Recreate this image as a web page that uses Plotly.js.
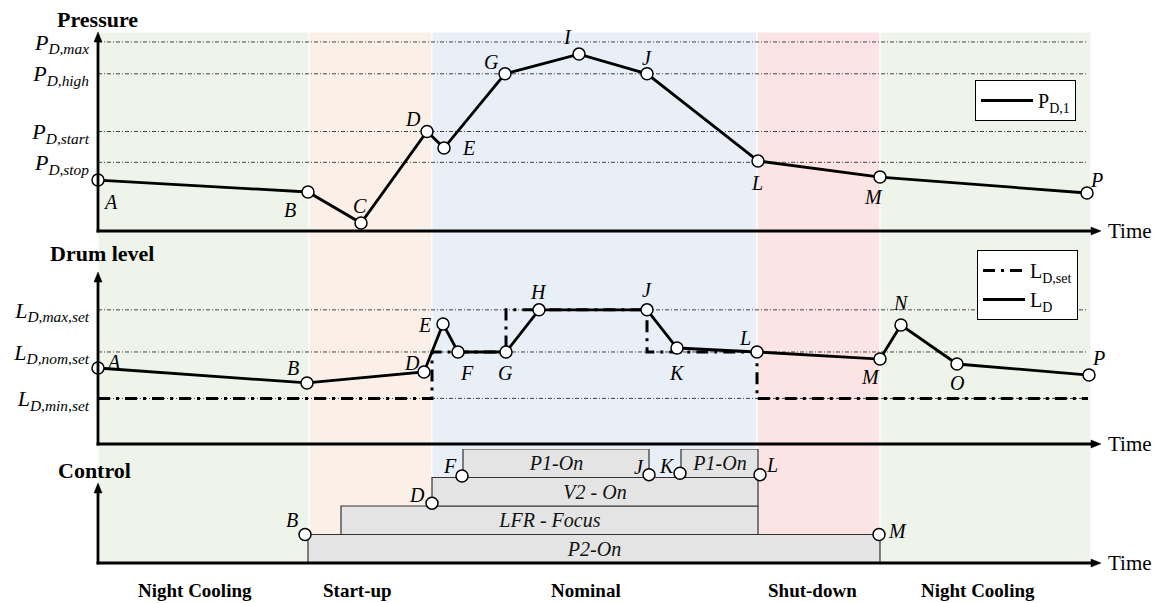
<!DOCTYPE html>
<html>
<head>
<meta charset="utf-8">
<script src="https://cdn.plot.ly/plotly-3.0.1.min.js"></script>
<style>html,body{margin:0;padding:0;background:#fff;}#chart{width:1159px;height:603px;}</style>
</head>
<body>
<div id="chart"></div>
<script>
// ---------------- DATA ----------------
const phaseNames = ['Night Cooling', 'Start-up', 'Nominal', 'Shut-down', 'Night Cooling'];
const phaseBounds = [0, 21.1, 33.4, 65.9, 78.2, 99.3];
const phaseLabelTime = [9.65, 25.95, 48.8, 71.4, 87.95];

// Pressure panel
const pLabels = ['A', 'B', 'C', 'D', 'E', 'G', 'I', 'J', 'L', 'M', 'P'];
const pTime = [0, 21.0, 26.3, 32.9, 34.6, 40.7, 48.1, 54.9, 66.0, 78.2, 98.9];
const pValue = [25.6, 19.6, 4.0, 50.0, 41.7, 79.0, 88.9, 79.0, 35.2, 27.1, 19.1];
const pRefText = ['<i>P</i><sub><i>D,max</i></sub>', '<i>P</i><sub><i>D,high</i></sub>', '<i>P</i><sub><i>D,start</i></sub>', '<i>P</i><sub><i>D,stop</i></sub>'];
const pRefValue = [95, 79, 50, 34.5];

// Drum level panel
const lLabels = ['A', 'B', 'D', 'E', 'F', 'G', 'H', 'J', 'K', 'L', 'M', 'N', 'O', 'P'];
const lTime = [0, 20.9, 32.6, 34.5, 36.0, 40.8, 44.1, 54.9, 57.9, 65.9, 78.2, 80.3, 85.9, 99.1];
const lValue = [44.2, 35.5, 41.9, 69.8, 53.5, 53.5, 78, 78, 55.8, 53.5, 49.4, 69.2, 46.5, 40.1];
const lSetTime = [0, 33.4, 40.8, 54.9, 65.9, 99.0];
const lSetValue = [26.5, 53.5, 78, 53.5, 26.5, 26.5];
const lRefText = ['<i>L</i><sub><i>D,max,set</i></sub>', '<i>L</i><sub><i>D,nom,set</i></sub>', '<i>L</i><sub><i>D,min,set</i></sub>'];
const lRefValue = [78, 53.5, 26.5];

// Control panel
const ctrlNames = ['P2-On', 'LFR - Focus', 'V2 - On', 'P1-On', 'P1-On'];
const ctrlLevel = [0, 1, 2, 3, 3];
const ctrlStart = [21.0, 24.3, 33.4, 36.5, 58.3];
const ctrlEnd = [78.2, 66.0, 66.0, 55.1, 66.0];
const evLabels = ['B', 'D', 'F', 'J', 'K', 'L', 'M'];
const evTime = [20.7, 33.4, 36.4, 55.1, 58.2, 66.2, 78.1];
const evLevel = [1.0, 2.1, 3.05, 3.1, 3.15, 3.1, 1.0];

// ---------------- STYLE ----------------
const FONT = 'Liberation Serif, "Times New Roman", Times, serif';
const phaseColors = ['#eef4ea', '#fbf0e7', '#e8eff7', '#fde4e4', '#eef4ea'];
const pOff = [[12, 22], [-18, 18], [-1, -17], [-14, -13], [24, 0], [-14, -12], [-12, -17], [0, -16], [-1, 22], [-7, 20], [9, -13]];
const lOff = [[15, -6], [-14, -15], [-12, -9], [-19, 1], [9, 21], [-1, 21], [-1, -18], [0, -20], [0, 25], [-12, -14], [-10, 18], [0, -22], [0, 19], [9, -17]];
const cOff = [[-13, -15], [-15, -8], [-12, -10], [-10, -8], [-13, -7], [12, -10], [18, -4]];

const W = 1159, H = 603, ML = 98, MR = 59;
const PW = W - ML - MR;
const px = x => (x - ML) / PW;
const py = y => 1 - y / H;

const marker = {symbol: 'circle', size: 12, color: 'white', line: {color: 'black', width: 1.5}};

const traces = [
  {x: pTime, y: pValue, xaxis: 'x', yaxis: 'y', mode: 'lines+markers', line: {color: 'black', width: 2.8}, marker: marker, cliponaxis: false, showlegend: false, hoverinfo: 'skip'},
  {x: lSetTime, y: lSetValue, xaxis: 'x', yaxis: 'y2', mode: 'lines', line: {color: 'black', width: 3, shape: 'hv', dash: '12px,6px,3px,6px'}, cliponaxis: false, showlegend: false, hoverinfo: 'skip'},
  {x: lTime, y: lValue, xaxis: 'x', yaxis: 'y2', mode: 'lines+markers', line: {color: 'black', width: 2.8}, marker: marker, cliponaxis: false, showlegend: false, hoverinfo: 'skip'},
  {type: 'bar', orientation: 'h', xaxis: 'x', yaxis: 'y3',
   y: ctrlLevel.map(v => v + 0.5), base: ctrlStart, x: ctrlEnd.map((e, i) => e - ctrlStart[i]), width: 1,
   text: ctrlNames, textposition: 'inside', insidetextanchor: 'middle', constraintext: 'none',
   textfont: {family: FONT, size: 20, style: 'italic', color: '#111'},
   marker: {color: '#e4e4e4', line: {color: '#333', width: 1.2}}, showlegend: false, hoverinfo: 'skip'},
  {x: evTime, y: evLevel, xaxis: 'x', yaxis: 'y3', mode: 'markers', marker: marker, cliponaxis: false, showlegend: false, hoverinfo: 'skip'},
  // legend-only entries
  {x: [null], y: [null], xaxis: 'x', yaxis: 'y', mode: 'lines', line: {color: 'black', width: 3}, name: 'P<sub>D,1</sub>', legend: 'legend'},
  {x: [null], y: [null], xaxis: 'x', yaxis: 'y2', mode: 'lines', line: {color: 'black', width: 3, dash: '12px,6px,3px,6px'}, name: 'L<sub>D,set</sub>', legend: 'legend2'},
  {x: [null], y: [null], xaxis: 'x', yaxis: 'y2', mode: 'lines', line: {color: 'black', width: 3}, name: 'L<sub>D</sub>', legend: 'legend2'}
];

const shapes = [];
for (let i = 0; i < phaseNames.length; i++) {
  shapes.push({type: 'rect', xref: 'x', yref: 'paper', x0: phaseBounds[i], x1: phaseBounds[i + 1], y0: py(563), y1: py(32),
    fillcolor: phaseColors[i], line: {color: 'white', width: 1}, layer: 'below'});
}
const refLine = {color: '#444', width: 1, dash: '4px,2px,1px,2px'};
pRefValue.forEach(v => shapes.push({type: 'line', xref: 'x', yref: 'y', x0: 0, x1: 99, y0: v, y1: v, line: refLine, layer: 'below'}));
lRefValue.forEach(v => shapes.push({type: 'line', xref: 'x', yref: 'y2', x0: 0, x1: 99, y0: v, y1: v, line: refLine, layer: 'below'}));

// axis lines with arrow heads (shapes)
const axLine = {color: 'black', width: 2.8};
[[231, 32], [444, 272], [563, 483]].forEach(a => {
  const yb = a[0], yt = a[1];
  shapes.push({type: 'line', xref: 'paper', yref: 'paper', x0: 0, x1: 0, y0: py(yb + 1.4), y1: py(yt + 7), line: axLine, layer: 'above'});
  shapes.push({type: 'line', xref: 'paper', yref: 'paper', x0: px(ML - 1.4), x1: px(1092), y0: py(yb), y1: py(yb), line: axLine, layer: 'above'});
  shapes.push({type: 'path', xref: 'paper', yref: 'paper', xsizemode: 'pixel', ysizemode: 'pixel', xanchor: 0, yanchor: py(yt),
    path: 'M0,0 L-4,-10 L4,-10 Z', fillcolor: 'black', line: {color: 'black', width: 0.5}, layer: 'above'});
  shapes.push({type: 'path', xref: 'paper', yref: 'paper', xsizemode: 'pixel', ysizemode: 'pixel', xanchor: px(1101), yanchor: py(yb),
    path: 'M0,0 L-10,4 L-10,-4 Z', fillcolor: 'black', line: {color: 'black', width: 0.5}, layer: 'above'});
});

const ann = [];
const lblFont = {family: FONT, size: 20, style: 'italic', color: 'black'};
pLabels.forEach((t, i) => ann.push({xref: 'x', yref: 'y', x: pTime[i], y: pValue[i], text: t, showarrow: false, xshift: pOff[i][0], yshift: -pOff[i][1], font: lblFont}));
lLabels.forEach((t, i) => ann.push({xref: 'x', yref: 'y2', x: lTime[i], y: lValue[i], text: t, showarrow: false, xshift: lOff[i][0], yshift: -lOff[i][1], font: lblFont}));
evLabels.forEach((t, i) => ann.push({xref: 'x', yref: 'y3', x: evTime[i], y: evLevel[i], text: t, showarrow: false, xshift: cOff[i][0], yshift: -cOff[i][1], font: lblFont}));

[231, 444, 563].forEach(y => ann.push({xref: 'paper', yref: 'paper', x: px(1106), y: py(y), xanchor: 'left', yanchor: 'middle', text: 'Time', showarrow: false, font: {family: FONT, size: 21, color: 'black'}}));

// panel titles
const titleFont = {family: FONT, size: 22, weight: 'bold', color: 'black'};
[['Pressure', 97, 20], ['Drum level', 102, 253], ['Control', 94, 470]].forEach(t =>
  ann.push({xref: 'paper', yref: 'paper', x: px(t[1]), y: py(t[2]), xanchor: 'center', yanchor: 'middle', text: '<b>' + t[0] + '</b>', showarrow: false, font: titleFont}));

// phase labels
phaseNames.forEach((n, i) => ann.push({xref: 'x', yref: 'paper', x: phaseLabelTime[i], y: py(590), xanchor: 'center', yanchor: 'middle', text: '<b>' + n + '</b>', showarrow: false,
  font: {family: FONT, size: 19, weight: 'bold', color: 'black'}}));

const tickFont = {family: FONT, size: 22, style: 'italic', color: 'black'};
const legFont = {family: FONT, size: 20, color: 'black'};
const layout = {
  width: W, height: H,
  margin: {l: ML, r: MR, t: 0, b: 0, pad: 0},
  paper_bgcolor: 'white', plot_bgcolor: 'rgba(0,0,0,0)',
  showlegend: true,
  xaxis: {range: [0, PW / 10], visible: false, fixedrange: true, anchor: 'y3'},
  yaxis: {domain: [py(231), py(32)], range: [0, 100], anchor: 'x', showgrid: false, zeroline: false, showline: false, ticks: '',
    tickvals: pRefValue, ticktext: pRefText, tickfont: tickFont, ticklabelstandoff: 8, automargin: false},
  yaxis2: {domain: [py(444), py(272)], range: [0, 100], anchor: 'x', showgrid: false, zeroline: false, showline: false, ticks: '',
    tickvals: lRefValue, ticktext: lRefText, tickfont: tickFont, ticklabelstandoff: 8, automargin: false},
  yaxis3: {domain: [py(563), py(449)], range: [0, 4], anchor: 'x', showgrid: false, zeroline: false, showline: false, showticklabels: false, ticks: ''},
  legend: {x: px(975), y: py(80), xanchor: 'left', yanchor: 'top', bgcolor: 'white', bordercolor: 'black', borderwidth: 1,
    font: legFont, itemwidth: 52},
  legend2: {x: px(977), y: py(250), xanchor: 'left', yanchor: 'top', bgcolor: 'white', bordercolor: 'black', borderwidth: 1,
    font: legFont, itemwidth: 42},
  shapes: shapes,
  annotations: ann
};

Plotly.newPlot('chart', traces, layout, {staticPlot: true, displayModeBar: false});
</script>
</body>
</html>
